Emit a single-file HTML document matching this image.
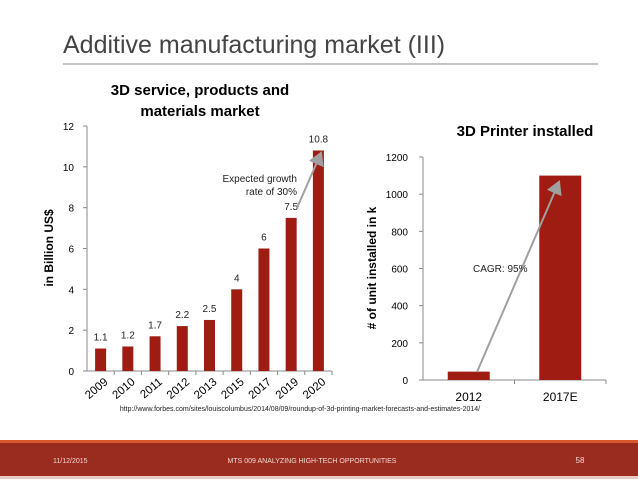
<!DOCTYPE html>
<html><head><meta charset="utf-8"><style>
body{margin:0;width:638px;height:479px;background:#fff;overflow:hidden;font-family:"Liberation Sans",sans-serif}
</style></head><body>
<svg width="638" height="479" xmlns="http://www.w3.org/2000/svg" font-family="Liberation Sans, sans-serif">
<defs><marker id="ah" markerWidth="8" markerHeight="8" refX="6" refY="4" orient="auto"><path d="M0,0 L7,4 L0,8 z" fill="#a0a0a0"/></marker></defs>
<text x="63" y="53" font-size="25" fill="#444">Additive manufacturing market (III)</text>
<line x1="63" y1="64" x2="598" y2="64" stroke="#888" stroke-width="1"/>
<text x="200" y="95" font-size="15" font-weight="bold" text-anchor="middle">3D service, products and</text>
<text x="200" y="116" font-size="15" font-weight="bold" text-anchor="middle">materials market</text>
<text x="525" y="136" font-size="15" font-weight="bold" text-anchor="middle">3D Printer installed</text>
<text transform="translate(53,248) rotate(-90)" font-size="12" font-weight="bold" text-anchor="middle">in Billion US$</text>
<text transform="translate(376,268) rotate(-90)" font-size="12" font-weight="bold" text-anchor="middle"># of unit installed  in k</text>
<g id="left"></g><g id="right"></g>
<line x1="297" y1="208" x2="321" y2="153" stroke="#a0a0a0" stroke-width="2" marker-end="url(#ah)"/>
<text x="297" y="182" font-size="10" text-anchor="end" fill="#222">Expected growth</text>
<text x="297" y="195" font-size="10" text-anchor="end" fill="#222">rate of  30%</text>
<line x1="477" y1="372" x2="559" y2="182" stroke="#a0a0a0" stroke-width="2" marker-end="url(#ah)"/>
<text x="473" y="272" font-size="10" fill="#222">CAGR: 95%</text>
<text x="300" y="411" font-size="7" text-anchor="middle" fill="#222">http://www.forbes.com/sites/louiscolumbus/2014/08/09/roundup-of-3d-printing-market-forecasts-and-estimates-2014/</text>
<rect x="0" y="440" width="638" height="3" fill="#d9582b"/>
<rect x="0" y="443" width="638" height="33" fill="#9a2b1f"/>
<rect x="0" y="476" width="638" height="3" fill="#e8c9c4"/>
<text x="53" y="463" font-size="7" fill="#f1d9d4">11/12/2015</text>
<text x="312" y="463" font-size="7" fill="#f1d9d4" text-anchor="middle">MTS 009 ANALYZING HIGH-TECH OPPORTUNITIES</text>
<text x="580" y="463" font-size="8" fill="#f1d9d4" text-anchor="middle">58</text>
</svg>
<script>
const leftCats=["2009","2010","2011","2012","2013","2015","2017","2019","2020"];
const leftVals=[1.1,1.2,1.7,2.2,2.5,4,6,7.5,10.8];
const leftLabels=["1.1","1.2","1.7","2.2","2.5","4","6","7.5","10.8"];
const leftTicks=[0,2,4,6,8,10,12];
const rightCats=["2012","2017E"];
const rightVals=[45,1100];
const rightTicks=[0,200,400,600,800,1000,1200];
const NS="http://www.w3.org/2000/svg";
function mk(p,t,a,txt){const e=document.createElementNS(NS,t);for(const k in a)e.setAttribute(k,a[k]);if(txt!==undefined)e.textContent=txt;p.appendChild(e);return e;}
const BAR="#9e1c12";
const L=document.getElementById('left');
const lx0=87,lx1=332,ly0=371,ly1=126;
const ly=v=>ly0-(v-0)/(12-0)*(ly0-ly1);
const lstep=(lx1-lx0)/leftCats.length;
const lxc=i=>lx0+lstep*(i+0.5);
let e=mk(L,'line',{x1:lx0,y1:ly1,x2:lx0,y2:ly0,stroke:'#888'});


e=mk(L,'line',{x1:lx0,y1:ly0,x2:lx1,y2:ly0,stroke:'#888'});


leftTicks.forEach(t=>{
  mk(L,'line',{x1:lx0-4,y1:ly(t),x2:lx0,y2:ly(t),stroke:'#888'});
  e=mk(L,'text',{x:lx0-13,y:ly(t)+4,'font-size':10,'text-anchor':'end'},String(t));
  
  
});
leftCats.forEach((c,i)=>{
  const x=lxc(i),w=11;
  e=mk(L,'rect',{x:x-w/2,y:ly(leftVals[i]),width:w,height:ly0-ly(leftVals[i]),fill:BAR});
  
  
  e=mk(L,'text',{x:x,y:ly(leftVals[i])-8,'font-size':10,'text-anchor':'middle',fill:'#222'},leftLabels[i]);
  
  
  mk(L,'line',{x1:lx0+lstep*(i+1),y1:ly0,x2:lx0+lstep*(i+1),y2:ly0+4,stroke:'#888'});
  e=mk(L,'text',{transform:`translate(${x+8},${ly0+12}) rotate(-40)`,'font-size':11.5,'text-anchor':'end'},c);
  
  
});
const R=document.getElementById('right');
const rx0=423,rx1=606,ry0=380,ry1=157;
const ry=v=>ry0-v/1200*(ry0-ry1);
const rstep=(rx1-rx0)/rightCats.length;
const rxc=i=>rx0+rstep*(i+0.5);
e=mk(R,'line',{x1:rx0,y1:ry1,x2:rx0,y2:ry0,stroke:'#888'});


e=mk(R,'line',{x1:rx0,y1:ry0,x2:rx1,y2:ry0,stroke:'#888'});


rightTicks.forEach(t=>{
  mk(R,'line',{x1:rx0-4,y1:ry(t),x2:rx0,y2:ry(t),stroke:'#888'});
  e=mk(R,'text',{x:rx0-15,y:ry(t)+4,'font-size':10,'text-anchor':'end'},String(t));
  
  
});
rightCats.forEach((c,i)=>{
  const x=rxc(i),w=42;
  e=mk(R,'rect',{x:x-w/2,y:ry(rightVals[i]),width:w,height:ry0-ry(rightVals[i]),fill:BAR});
  
  
  mk(R,'line',{x1:rx0+rstep*(i+1),y1:ry0,x2:rx0+rstep*(i+1),y2:ry0+4,stroke:'#888'});
  e=mk(R,'text',{x:x,y:ry0+21,'font-size':12,'text-anchor':'middle'},c);
  
  
});
</script>
</body></html>
